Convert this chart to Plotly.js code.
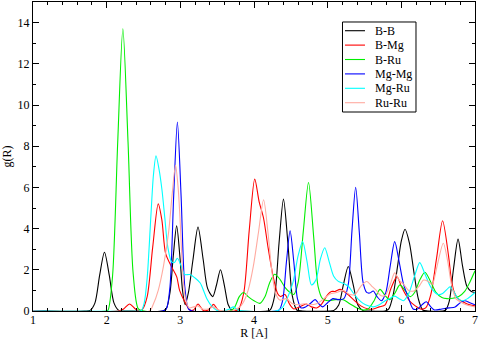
<!DOCTYPE html>
<html>
<head>
<meta charset="utf-8">
<script src="https://cdn.plot.ly/plotly-3.0.1.min.js"></script>
<style>html,body{margin:0;padding:0;background:#fff;}#chart{width:480px;height:340px;}</style>
</head>
<body>
<div id="chart"></div>
<script>
// Series names
var seriesNames = ["B-B", "B-Mg", "B-Ru", "Mg-Mg", "Mg-Ru", "Ru-Ru"];

// B-B
var bbX = [1.0, 1.70, 1.775, 1.84, 1.905, 1.97, 2.035, 2.10, 2.165, 2.30, 2.76, 2.81, 2.86, 2.905, 2.95, 2.995, 3.03, 3.065, 3.11, 3.17, 3.24, 3.31, 3.37, 3.44, 3.49, 3.545, 3.60, 3.65, 3.70, 3.80, 4.18, 4.22, 4.28, 4.34, 4.40, 4.46, 4.52, 4.58, 4.66, 5.02, 5.085, 5.15, 5.215, 5.28, 5.345, 5.41, 5.475, 5.56, 5.78, 5.83, 5.89, 5.95, 6.00, 6.05, 6.11, 6.17, 6.23, 6.29, 6.36, 6.56, 6.60, 6.65, 6.71, 6.77, 6.83, 6.89, 6.95, 7.0];
var bbY = [0, 0, 0.03, 0.38, 1.74, 2.85, 1.74, 0.38, 0.03, 0, 0, 0.12, 0.9, 2.7, 4.13, 2.6, 1.0, 0.3, 0.9, 2.45, 4.07, 2.5, 1.1, 0.7, 1.25, 2.0, 1.2, 0.3, 0.03, 0, 0, 0.05, 0.73, 3.3, 5.43, 3.3, 0.73, 0.05, 0, 0, 0.03, 0.29, 1.3, 2.16, 1.3, 0.29, 0.03, 0, 0, 0.1, 0.8, 2.2, 3.4, 3.97, 3.3, 1.9, 0.6, 0.05, 0, 0, 0.04, 0.47, 2.1, 3.49, 2.2, 1.2, 0.95, 0.9];

// B-Mg
var bmX = [1.0, 2.15, 2.23, 2.31, 2.39, 2.45, 2.48, 2.55, 2.625, 2.70, 2.75, 2.80, 2.88, 2.95, 2.99, 3.06, 3.13, 3.18, 3.24, 3.31, 3.38, 3.45, 3.52, 3.70, 3.785, 3.86, 3.935, 4.01, 4.07, 4.13, 4.19, 4.26, 4.32, 4.36, 4.42, 4.48, 4.54, 4.62, 4.71, 4.78, 4.85, 4.92, 5.0, 5.05, 5.10, 5.17, 5.26, 5.35, 5.45, 5.55, 5.62, 5.70, 5.78, 5.86, 5.94, 6.0, 6.05, 6.12, 6.19, 6.26, 6.33, 6.40, 6.48, 6.56, 6.64, 6.68, 6.72, 6.77, 6.86, 6.93, 7.0];
var bmY = [0, 0, 0.1, 0.34, 0.1, 0, 0.05, 0.7, 3.1, 5.2, 4.4, 2.8, 2.15, 1.67, 1.0, 0.45, 0.05, 0.05, 0.34, 0.03, 0.05, 0.32, 0.02, 0, 0.07, 0.86, 3.9, 6.4, 5.3, 4.5, 3.1, 1.67, 0.85, 0.7, 0.8, 0.35, 0.1, 0.2, 0.34, 0.2, 0.15, 0.35, 0.8, 0.95, 0.95, 1.05, 0.85, 0.55, 0.25, 0.1, 0.1, 0.2, 0.3, 1.1, 1.67, 1.2, 0.85, 0.45, 0.25, 0.1, 0.15, 0.8, 2.6, 4.38, 2.7, 1.5, 0.9, 0.6, 0.4, 0.3, 0.25];

// B-Ru
var brX = [1.0, 2.0, 2.02, 2.08, 2.15, 2.22, 2.29, 2.36, 2.43, 2.50, 3.68, 3.74, 3.80, 3.86, 3.92, 4.0, 4.08, 4.15, 4.21, 4.28, 4.35, 4.42, 4.49, 4.54, 4.60, 4.67, 4.74, 4.81, 4.87, 4.93, 5.0, 5.1, 5.21, 5.30, 5.40, 5.48, 5.55, 5.63, 5.71, 5.78, 5.84, 5.91, 5.98, 6.05, 6.12, 6.18, 6.25, 6.32, 6.40, 6.47, 6.55, 6.62, 6.70, 6.78, 6.86, 6.93, 7.0];
var brY = [0, 0, 0.05, 1.7, 8.2, 13.7, 8.2, 1.8, 0.1, 0, 0, 0.2, 0.7, 0.9, 0.7, 0.5, 0.37, 0.7, 1.35, 1.78, 1.55, 1.15, 0.9, 0.8, 1.4, 3.9, 6.24, 3.6, 1.2, 0.6, 0.5, 0.55, 0.55, 0.35, 0.15, 0.05, 0.1, 0.5, 1.05, 0.75, 0.55, 0.85, 1.27, 1.0, 0.7, 0.9, 1.5, 1.88, 1.4, 0.9, 0.65, 0.6, 0.62, 0.7, 0.95, 1.4, 1.95];

// Mg-Mg
var mmX = [1.0, 2.76, 2.81, 2.86, 2.91, 2.96, 3.01, 3.06, 3.11, 3.16, 4.30, 4.34, 4.39, 4.44, 4.49, 4.54, 4.59, 4.64, 4.70, 4.76, 4.83, 4.88, 4.93, 5.0, 5.07, 5.15, 5.22, 5.28, 5.33, 5.38, 5.43, 5.48, 5.53, 5.57, 5.62, 5.67, 5.73, 5.79, 5.85, 5.91, 5.97, 6.03, 6.10, 6.16, 6.22, 6.28, 6.34, 6.40, 6.45, 6.55, 6.65, 6.73, 6.80, 6.86, 6.93, 7.0];
var mmY = [0, 0, 0.1, 1.2, 5.6, 9.17, 5.6, 1.2, 0.1, 0, 0, 0.04, 0.53, 2.37, 3.89, 2.4, 0.6, 0.15, 0.2, 0.35, 0.55, 0.35, 0.2, 0.4, 0.6, 0.55, 0.6, 1.3, 3.9, 6.01, 3.8, 1.4, 0.9, 0.87, 0.97, 0.7, 0.5, 0.9, 2.2, 3.37, 2.4, 1.3, 0.6, 0.1, 0.1, 0.3, 0.45, 0.2, 0.05, 0.1, 0.15, 0.2, 0.4, 0.5, 0.4, 0.3];

// Mg-Ru
var mrX = [1.0, 2.44, 2.47, 2.51, 2.55, 2.60, 2.635, 2.67, 2.71, 2.75, 2.79, 2.83, 2.88, 2.92, 2.96, 3.01, 3.06, 3.13, 3.20, 3.27, 3.32, 3.36, 3.43, 3.50, 3.60, 3.67, 3.72, 3.78, 3.85, 4.30, 4.38, 4.45, 4.53, 4.60, 4.66, 4.72, 4.78, 4.84, 4.90, 4.96, 5.02, 5.08, 5.14, 5.21, 5.28, 5.35, 5.42, 5.48, 5.55, 5.62, 5.70, 5.78, 5.85, 5.91, 5.97, 6.03, 6.10, 6.18, 6.25, 6.32, 6.41, 6.50, 6.56, 6.62, 6.66, 6.71, 6.77, 6.83, 6.90, 7.0];
var mrY = [0, 0, 0.02, 0.4, 1.6, 4.6, 6.6, 7.54, 6.9, 5.9, 4.5, 3.1, 2.4, 2.35, 2.56, 2.2, 1.77, 1.77, 1.6, 1.36, 0.95, 0.6, 0.22, 0.02, 0.02, 0.1, 0.2, 0.05, 0, 0, 0.15, 0.6, 1.4, 2.7, 3.37, 2.4, 1.26, 1.5, 2.5, 3.07, 2.4, 1.7, 1.45, 1.35, 1.2, 0.86, 0.55, 0.37, 0.25, 0.2, 0.3, 0.5, 0.62, 0.72, 0.6, 0.5, 0.85, 1.7, 2.35, 1.8, 1.1, 0.8, 0.85, 1.05, 1.17, 0.95, 0.6, 0.5, 0.6, 0.9];

// Ru-Ru
var rrX = [1.0, 2.58, 2.63, 2.70, 2.77, 2.84, 2.89, 2.935, 2.97, 3.00, 3.03, 3.07, 3.12, 3.18, 3.24, 3.30, 3.38, 3.45, 3.52, 3.60, 3.70, 3.76, 3.81, 3.86, 3.92, 3.99, 4.06, 4.13, 4.19, 4.24, 4.29, 4.35, 4.44, 4.52, 4.60, 4.68, 4.76, 4.85, 4.95, 5.03, 5.12, 5.21, 5.30, 5.37, 5.45, 5.53, 5.60, 5.66, 5.72, 5.78, 5.85, 5.91, 5.97, 6.03, 6.10, 6.17, 6.24, 6.30, 6.36, 6.42, 6.48, 6.57, 6.63, 6.68, 6.74, 6.80, 6.88, 7.0];
var rrY = [0, 0, 0.3, 1.0, 2.15, 3.8, 5.7, 7.07, 6.0, 4.2, 2.0, 0.6, 0.15, 0.2, 0.25, 0.1, 0.1, 0.2, 0.05, 0, 0, 0.1, 0.2, 0.45, 1.0, 2.15, 3.8, 5.4, 3.8, 2.0, 0.9, 0.53, 0.6, 0.35, 0.3, 0.35, 0.3, 0.35, 0.6, 0.82, 0.9, 1.0, 0.8, 0.8, 1.2, 1.43, 1.2, 1.0, 0.75, 0.75, 1.3, 1.85, 1.5, 1.3, 1.0, 0.97, 1.2, 1.5, 1.45, 1.3, 2.1, 3.29, 2.4, 1.3, 0.6, 0.45, 0.3, 0.2];

var colors = ["#000000", "#ff0000", "#00ee00", "#0000ff", "#00ffff", "#ffaaa0"];
var xs = [bbX, bmX, brX, mmX, mrX, rrX];
var ys = [bbY, bmY, brY, mmY, mrY, rrY];

var traces = seriesNames.map(function (n, i) {
  return {
    type: "scatter", mode: "lines", name: n,
    x: xs[i], y: ys[i],
    line: {color: colors[i], width: 1.1, shape: "spline", smoothing: 0.8}
  };
});

var serif = "Liberation Serif, Times New Roman, serif";

// Compact legend box (Grace style), built from seriesNames and colors
var legX0 = 0.7002, legX1 = 0.8665, legY0 = 0.644, legY1 = 0.9353;
var sampX0 = 0.7059, sampX1 = 0.7511, textX = 0.7692;
var rowTop = 0.9071, rowStep = 0.0466;
var shapes = [{type: "rect", xref: "paper", yref: "paper", x0: legX0, x1: legX1, y0: legY0, y1: legY1,
  line: {color: "#000", width: 1}, fillcolor: "#fff", layer: "above"}];
var annotations = [];
seriesNames.forEach(function (n, i) {
  var yy = rowTop - i * rowStep;
  shapes.push({type: "line", xref: "paper", yref: "paper", x0: sampX0, x1: sampX1, y0: yy, y1: yy,
    line: {color: colors[i], width: 1.1}, layer: "above"});
  annotations.push({xref: "paper", yref: "paper", x: textX, y: yy, xanchor: "left", yanchor: "middle",
    text: n, showarrow: false, font: {family: serif, size: 12, color: "#000"}});
});

var layout = {
  width: 480, height: 340,
  margin: {l: 33, r: 5, t: 2, b: 29, pad: 0},
  paper_bgcolor: "#fff", plot_bgcolor: "#fff",
  font: {family: serif, size: 12, color: "#000"},
  showlegend: false,
  shapes: shapes,
  annotations: annotations,
  xaxis: {
    range: [1, 7], tickmode: "linear", tick0: 1, dtick: 1,
    ticks: "inside", ticklen: 6, tickcolor: "#000", tickwidth: 1,
    ticklabelstandoff: -2,
    minor: {dtick: 0.2, ticks: "inside", ticklen: 3, tickcolor: "#000", showgrid: false},
    showline: true, linecolor: "#000", linewidth: 1, mirror: "allticks",
    showgrid: false, zeroline: false,
    tickfont: {family: serif, size: 12},
    title: {text: "R [A]", font: {family: serif, size: 12}, standoff: 10}
  },
  yaxis: {
    range: [0, 15], tickmode: "linear", tick0: 0, dtick: 2,
    ticks: "inside", ticklen: 6, tickcolor: "#000", tickwidth: 1,
    minor: {dtick: 1, ticks: "inside", ticklen: 3, tickcolor: "#000", showgrid: false},
    showline: true, linecolor: "#000", linewidth: 1, mirror: "allticks",
    showgrid: false, zeroline: false,
    tickfont: {family: serif, size: 12},
    title: {text: "g(R)", font: {family: serif, size: 12}, standoff: 6}
  }
};

Plotly.newPlot("chart", traces, layout, {staticPlot: true, displayModeBar: false});
</script>
</body>
</html>
